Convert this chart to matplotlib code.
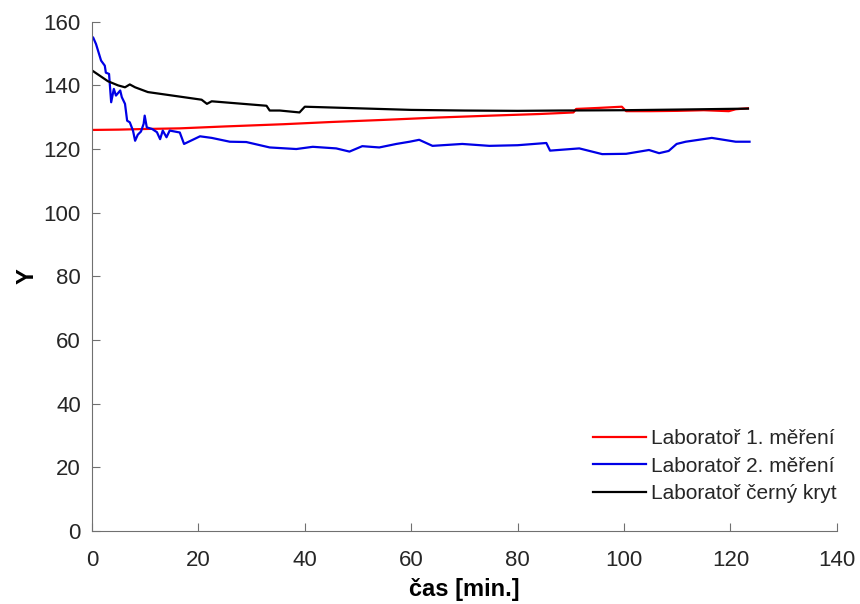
import matplotlib
matplotlib.use('Agg')
import matplotlib.pyplot as plt

# Laboratoř 1. měření (red)
t_red = [0, 5, 10, 16.5, 25, 36, 45, 54, 65, 75, 84, 88, 90.5, 91, 95, 99.6, 100.4, 105, 110, 115, 119.7, 121, 123.3]
y_red = [126.0, 126.1, 126.3, 126.5, 127.1, 127.8, 128.5, 129.1, 129.9, 130.5, 131.0, 131.3, 131.5, 132.6, 132.9, 133.3, 131.9, 131.9, 132.0, 132.2, 131.9, 132.5, 132.8]

# Laboratoř 2. měření (blue)
t_blue = [0, 0.2, 0.75, 1.7, 2.4, 2.6, 3.2, 3.6, 4.1, 4.5, 5.3, 5.6, 6.2, 6.6, 7.1, 7.7, 8.1, 8.6,
          9.2, 9.7, 9.9, 10.3, 11.3, 12.2, 12.8, 13.3, 14.0, 14.6, 16.5, 17.3, 20.3, 22.5, 25.9,
          29.0, 33.4, 38.4, 41.5, 45.9, 48.4, 50.8, 54.0, 57.2, 59.7, 61.5, 64.0, 69.6, 74.7, 80.0,
          85.4, 86.1, 91.6, 95.9, 100.4, 104.7, 106.6, 108.4, 109.9, 111.6, 116.5, 121.0, 123.6]
y_blue = [155.2, 155.1, 153.0, 147.8, 146.2, 144.0, 143.6, 134.7, 138.9, 136.8, 138.4, 136.3, 134.2,
          128.9, 128.4, 125.8, 122.6, 124.5, 125.5, 127.9, 130.5, 126.8, 126.3, 125.3, 123.1, 125.8,
          123.7, 125.8, 125.2, 121.6, 124.0, 123.5, 122.3, 122.2, 120.5, 120.0, 120.7, 120.2, 119.2,
          120.9, 120.5, 121.6, 122.3, 122.9, 121.0, 121.6, 121.0, 121.2, 121.9, 119.5, 120.2, 118.4,
          118.5, 119.7, 118.7, 119.4, 121.6, 122.3, 123.5, 122.3, 122.3]

# Laboratoř černý kryt (black)
t_black = [0, 3.0, 4.9, 6.2, 7.1, 8.1, 10.5, 20.6, 21.6, 22.5, 32.8, 33.4, 35.3, 39.0, 40.0, 50, 60, 70, 80, 87.8, 100, 110, 123.3]
y_black = [144.7, 141.3, 140.0, 139.4, 140.3, 139.4, 137.9, 135.5, 134.2, 135.0, 133.6, 132.1, 132.1,
           131.5, 133.3, 132.8, 132.3, 132.1, 132.0, 132.1, 132.2, 132.4, 132.7]

labels = ['Laboratoř 1. měření', 'Laboratoř 2. měření', 'Laboratoř černý kryt']

plt.rcParams['font.family'] = ['Liberation Sans', 'DejaVu Sans']
plt.rcParams['text.color'] = '#262626'

fig = plt.figure(figsize=(8.6, 6.04), dpi=100)
ax = fig.add_axes([0.107, 0.121, 0.866, 0.843])

ax.plot(t_red, y_red, color='#ff0000', lw=1.6, label=labels[0])
ax.plot(t_blue, y_blue, color='#0000e6', lw=1.6, label=labels[1])
ax.plot(t_black, y_black, color='black', lw=1.6, label=labels[2])

ax.set_xlim(0, 140)
ax.set_ylim(0, 160)
ax.set_xticks(range(0, 141, 20))
ax.set_yticks(range(0, 161, 20))
ax.spines['top'].set_visible(False)
ax.spines['right'].set_visible(False)
for s in ('left', 'bottom'):
    ax.spines[s].set_color('#707070')
ax.tick_params(direction='in', length=6, color='#707070', labelcolor='#262626', labelsize=16)
ax.tick_params(axis='x', pad=14)
ax.tick_params(axis='y', pad=8)

ax.set_xlabel('čas [min.]', fontsize=17, fontweight='bold', labelpad=5)
ax.set_ylabel('Y', fontsize=17, fontweight='bold', labelpad=4)

ax.legend(loc='lower right', frameon=False, fontsize=15, handlelength=2.55,
          handletextpad=0.25, labelspacing=0.4, borderpad=0, borderaxespad=0,
          bbox_to_anchor=(1.0, 0.055))

fig.savefig('out.png', dpi=100)
